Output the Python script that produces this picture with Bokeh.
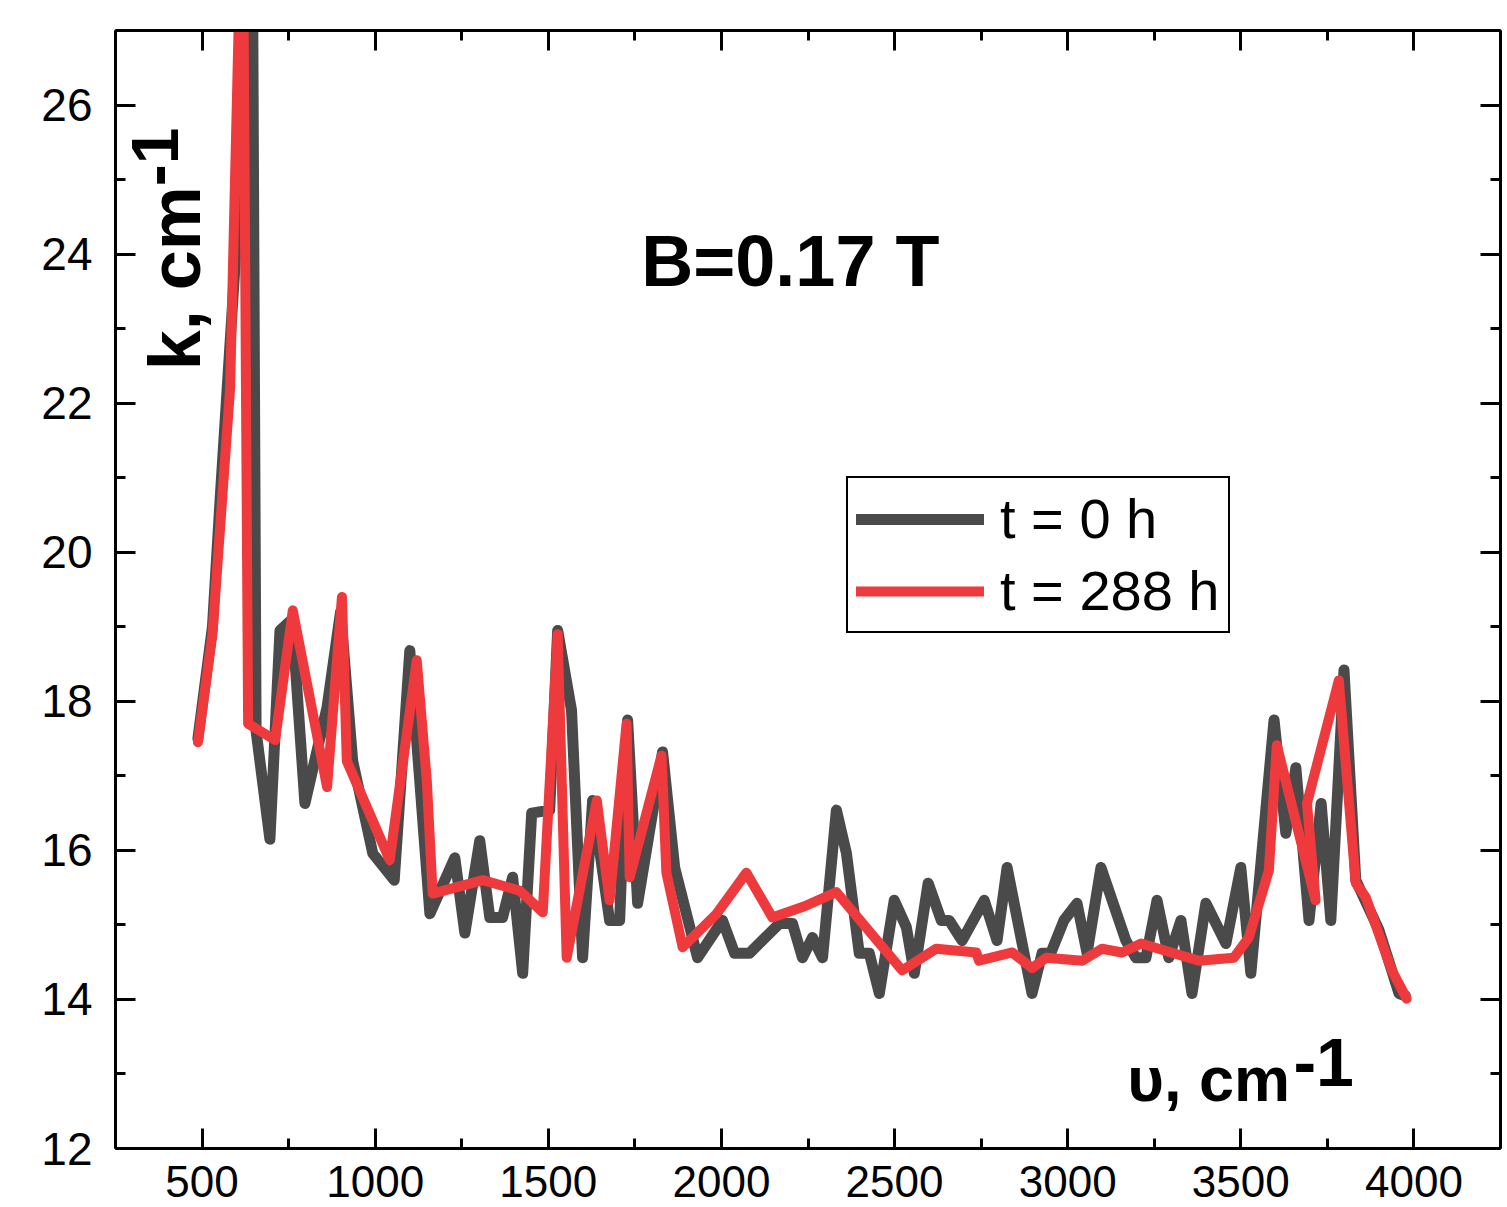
import math
from bokeh.plotting import figure
from bokeh.models import LinearAxis, FixedTicker, Label, Legend, LegendItem, Range1d
from bokeh.embed import file_html
from bokeh.resources import INLINE

# ---- data ----
x_t0 = [488, 530, 552, 600, 646, 656, 696, 725, 760, 797, 861, 900, 935, 993, 1055,
        1100, 1158, 1230, 1259, 1302, 1331, 1368, 1397, 1426, 1452, 1504, 1527, 1567,
        1599, 1628, 1677, 1706, 1729, 1758, 1830, 1865, 1931, 2003, 2038, 2081, 2168,
        2205, 2234, 2263, 2292, 2332, 2361, 2398, 2427, 2456, 2499, 2534, 2557, 2597,
        2635, 2658, 2695, 2759, 2796, 2825, 2897, 2926, 2951, 2989, 3027, 3056, 3096,
        3168, 3197, 3226, 3258, 3292, 3327, 3359, 3399, 3457, 3500, 3529, 3596, 3630,
        3659, 3697, 3732, 3760, 3798, 3832, 3899, 3957, 3975]
y_t0 = [17.5, 19.0, 20.7, 24.2, 27.6, 17.6, 16.15, 18.95, 19.1, 16.63, 17.92, 19.2, 17.2, 15.96, 15.6,
        18.68, 15.15, 15.9, 14.89, 16.13, 15.1, 15.1, 15.64, 14.35, 16.5, 16.54, 18.95, 17.88,
        14.56, 16.67, 15.06, 15.06, 17.75, 15.29, 17.32, 15.77, 14.56, 15.06, 14.62, 14.62, 15.02,
        15.02, 14.56, 14.83, 14.56, 16.54, 15.96, 14.62, 14.62, 14.08, 15.33, 14.97, 14.35, 15.56,
        15.06, 15.06, 14.79, 15.33, 14.79, 15.77, 14.08, 14.62, 14.62, 15.06, 15.29, 14.62, 15.77,
        14.79, 14.56, 14.56, 15.33, 14.56, 15.06, 14.08, 15.29, 14.75, 15.77, 14.35, 17.75, 16.23,
        17.11, 15.06, 16.63, 15.06, 18.42, 15.6, 14.93, 14.08, 14.05]

x_t288 = [488, 530, 581, 617, 633, 711, 762, 861, 904, 918, 1042, 1120, 1149, 1166, 1311,
          1417, 1484, 1527, 1553, 1640, 1677, 1726, 1735, 1827, 1841, 1888, 1986, 2072,
          2147, 2240, 2332, 2522, 2620, 2736, 2744, 2840, 2897, 2938, 3042, 3099, 3157,
          3212, 3379, 3480, 3523, 3581, 3604, 3716, 3691, 3783, 3832, 3861, 3936, 3979]
y_t288 = [17.45, 18.9, 22.2, 29.3, 17.7, 17.48, 19.22, 16.85, 19.4, 17.2, 15.87, 18.55, 16.94, 15.42, 15.6,
          15.46, 15.17, 18.9, 14.56, 16.67, 15.33, 17.7, 15.64, 17.27, 15.7, 14.7, 15.15, 15.7,
          15.1, 15.25, 15.44, 14.39, 14.68, 14.63, 14.52, 14.63, 14.42, 14.56, 14.52, 14.68, 14.63,
          14.75, 14.52, 14.56, 14.83, 15.73, 17.41, 15.33, 16.63, 18.28, 15.56, 15.37, 14.39, 14.01]

x_ticks = [500, 1000, 1500, 2000, 2500, 3000, 3500, 4000]
x_minor = [250, 750, 1250, 1750, 2250, 2750, 3250, 3750, 4250]
y_ticks = [12, 14, 16, 18, 20, 22, 24, 26]
y_minor = [13, 15, 17, 19, 21, 23, 25, 27]

series_labels = ["t = 0 h", "t = 288 h"]
annotation = "B=0.17 T"

GRAY = "#4a4a4a"
RED = "#ef3a3d"
FONT = "Liberation Sans"

p = figure(width=1507, height=1207, x_range=Range1d(250, 4250), y_range=Range1d(12, 27),
           output_backend="svg", toolbar_location=None,
           x_axis_location=None, y_axis_location=None,
           min_border_left=115, min_border_top=30, min_border_right=7, min_border_bottom=59)
p.grid.visible = False
p.outline_line_color = None
p.background_fill_color = "white"
p.border_fill_color = "white"


def make_axis(ticks, minor, show_labels, font_size, standoff):
    ax = LinearAxis(ticker=FixedTicker(ticks=ticks, minor_ticks=minor))
    ax.axis_line_width = 3
    ax.axis_line_color = "black"
    ax.major_tick_in = 20
    ax.major_tick_out = 0
    ax.minor_tick_in = 10
    ax.minor_tick_out = 0
    ax.major_tick_line_width = 3
    ax.minor_tick_line_width = 3
    ax.major_tick_line_color = "black"
    ax.minor_tick_line_color = "black"
    if show_labels:
        ax.major_label_text_font = FONT
        ax.major_label_text_font_size = font_size
        ax.major_label_text_color = "black"
        ax.major_label_standoff = standoff
    else:
        ax.major_label_text_font_size = "0px"
        ax.major_label_standoff = 0
        ax.major_label_text_alpha = 0
    return ax


p.add_layout(make_axis(x_ticks, x_minor, True, "44px", 17), "below")
p.add_layout(make_axis(y_ticks, y_minor, True, "46px", 23), "left")
p.add_layout(make_axis(x_ticks, x_minor, False, "0px", 0), "above")
p.add_layout(make_axis(y_ticks, y_minor, False, "0px", 0), "right")

r0 = p.line(x_t0, y_t0, line_color=GRAY, line_width=11, line_join="round", line_cap="round")
r1 = p.line(x_t288, y_t288, line_color=RED, line_width=10, line_join="round", line_cap="round")

legend = Legend(items=[LegendItem(label=series_labels[0], renderers=[r0]),
                       LegendItem(label=series_labels[1], renderers=[r1])],
                location=(731, 515))
legend.border_line_color = "black"
legend.border_line_alpha = 1
legend.border_line_width = 2
legend.background_fill_alpha = 1
legend.padding = 8
legend.spacing = 7
legend.margin = 0
legend.label_text_font = FONT
legend.label_text_font_size = "56px"
legend.label_text_color = "black"
legend.glyph_width = 128
legend.glyph_height = 64
legend.label_height = 64
legend.label_standoff = 16
p.add_layout(legend, "center")

# annotation and axis titles placed inside the frame
p.add_layout(Label(x=2199, y=23.91, text=annotation, text_font=FONT, text_font_size="72px",
                   text_font_style="bold", text_align="center", text_baseline="alphabetic",
                   text_color="black"))

p.add_layout(Label(x=423, y=22.44, text="k, cm", angle=math.pi / 2, text_font=FONT,
                   text_font_size="72px", text_font_style="bold", text_baseline="alphabetic",
                   text_color="black"))
p.add_layout(Label(x=365, y=24.91, text="-1", angle=math.pi / 2, text_font=FONT,
                   text_font_size="66px", text_font_style="bold", text_baseline="alphabetic",
                   text_color="black"))

p.add_layout(Label(x=3172, y=12.93, text="\u03c5, cm", text_font=FONT,
                   text_font_size="63px", text_font_style="bold", text_baseline="alphabetic",
                   text_color="black"))
p.add_layout(Label(x=3652, y=13.15, text="-1", text_font=FONT,
                   text_font_size="68px", text_font_style="bold", text_baseline="alphabetic",
                   text_color="black"))

open("out.html", "w").write(file_html(p, INLINE))
